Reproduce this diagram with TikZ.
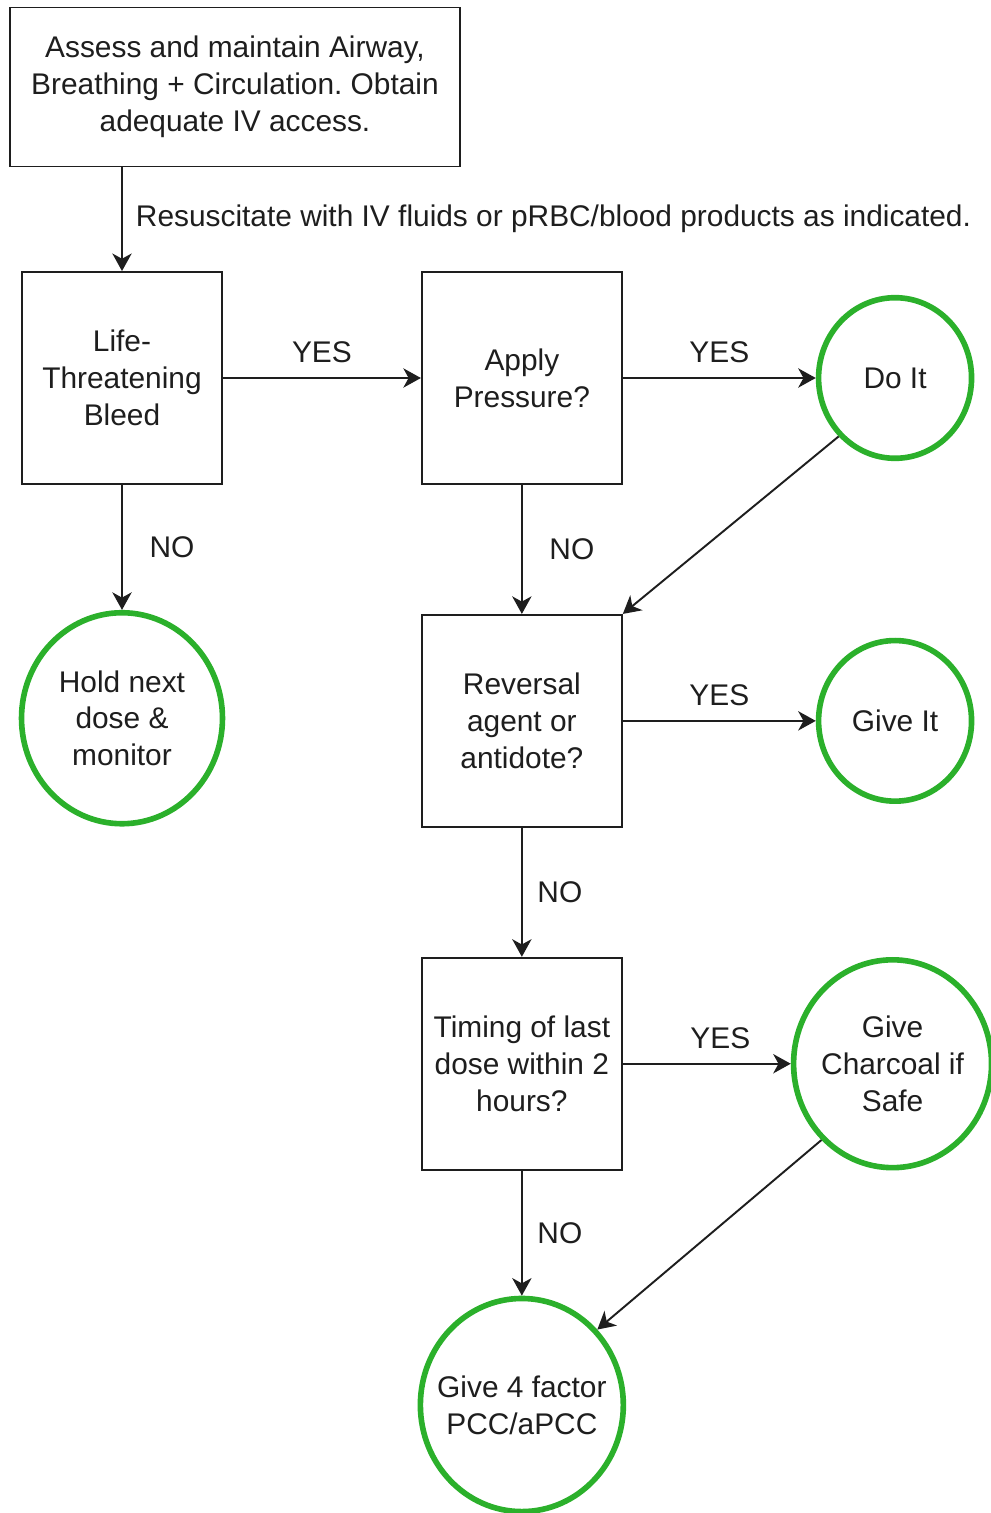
\documentclass[tikz,border=0pt]{standalone}
\usepackage{fontspec}
\setmainfont{Liberation Sans}
\usetikzlibrary{arrows.meta,positioning,shapes.geometric}
\definecolor{okgreen}{HTML}{2BB02B}
\definecolor{ink}{HTML}{1E1E1E}
\tikzset{
  stepbox/.style={
    rectangle, draw=ink, line width=1.1pt, fill=white,
    minimum width=#1, minimum height=4.24cm,
    align=center, text=ink, inner sep=4pt
  },
  stepbox/.default=4cm,
  endcircle/.style={
    ellipse, draw=okgreen, line width=3.2pt, fill=white,
    minimum width=#1, minimum height=1.05*#1,
    align=center, text=ink, inner xsep=-0.6cm, inner ysep=0pt
  },
  endcircle/.default=4.02cm,
  flow/.style={
    -{Stealth[length=10pt, width=11pt, inset=3pt]}, line width=1.1pt, color=ink
  },
  lbl/.style={text=ink, inner sep=0pt},
}
\frenchspacing
\begin{document}
\begin{tikzpicture}[x=0.02cm, y=-0.02cm, font=\fontsize{17}{21}\selectfont]
  \useasboundingbox (0,0) rectangle (990,1513);

  % Entry box and first decision
  \node[stepbox=9cm, minimum height=3.18cm] (assess) at (235,87)
    {Assess and maintain Airway,\\Breathing + Circulation. Obtain\\adequate IV access.};
  \node[stepbox] (bleed) at (122,378) {Life-\\Threatening\\Bleed};

  % Decision column
  \node[stepbox, right=3.96cm of bleed] (pressure) {Apply\\Pressure?};
  \node[stepbox, below=2.58cm of pressure] (reversal) {Reversal\\agent or\\antidote?};
  \node[stepbox, below=2.58cm of reversal] (timing) {Timing of last\\dose within 2\\hours?};

  % Outcomes
  \node[endcircle=3.06cm, right=3.86cm of pressure] (doit) {Do It};
  \node[endcircle, below=2.5cm of bleed] (hold) {Hold next\\dose \&\\monitor};
  \node[endcircle=3.06cm, right=3.86cm of reversal] (giveit) {Give It};
  \node[endcircle=3.96cm, right=3.36cm of timing] (charcoal) {Give\\Charcoal if\\Safe};
  \node[endcircle=4.06cm, below=2.5cm of timing] (pcc) {Give 4 factor\\PCC/aPCC};

  % Connectors
  \draw[flow] (assess.south -| bleed) -- node[lbl, right, xshift=0.26cm]
    {Resuscitate with IV fluids or pRBC/blood products as indicated.} (bleed);
  \draw[flow] (bleed) -- node[lbl, yshift=0.52cm] {YES} (pressure);
  \draw[flow] (pressure) -- node[lbl, yshift=0.52cm] {YES} (doit);
  \draw[flow] (bleed) -- node[lbl, xshift=1cm] {NO} (hold);
  \draw[flow] (pressure) -- node[lbl, xshift=1cm] {NO} (reversal);
  \draw[flow] (doit.226) -- (reversal.north east);
  \draw[flow] (reversal) -- node[lbl, yshift=0.52cm] {YES} (giveit);
  \draw[flow] (reversal) -- node[lbl, xshift=0.76cm] {NO} (timing);
  \draw[flow] (timing) -- node[lbl, xshift=0.27cm, yshift=0.52cm] {YES} (charcoal);
  \draw[flow] (timing) -- node[lbl, xshift=0.76cm] {NO} (pcc);
  \draw[flow] (charcoal.227) -- (pcc.45);
\end{tikzpicture}
\end{document}
